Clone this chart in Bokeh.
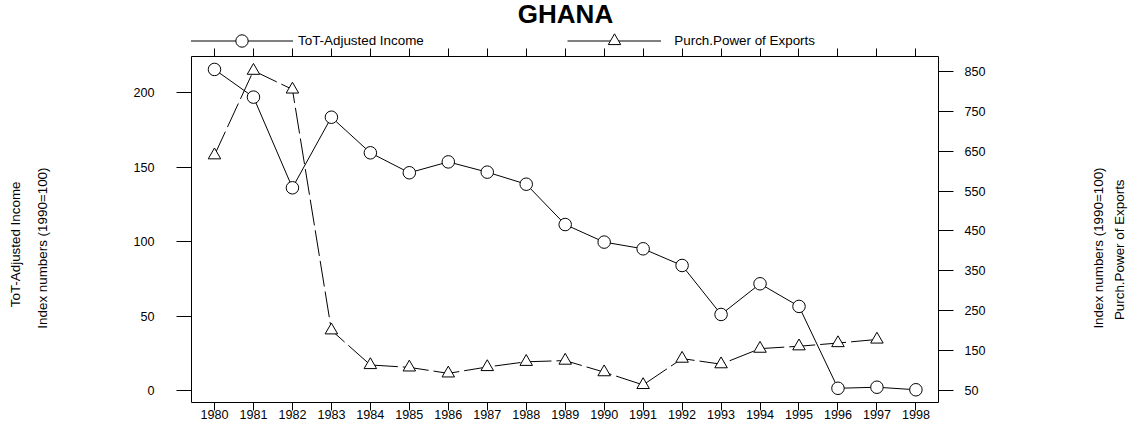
import numpy as np
from bokeh.plotting import figure
from bokeh.layouts import column
from bokeh.models import (Range1d, LinearAxis, FixedTicker, Label, Legend,
                          LegendItem, ColumnDataSource)
from bokeh.embed import file_html
from bokeh.resources import INLINE

# ---------------- data ----------------
title_text = "GHANA"
years = list(range(1980, 1999))
tot_income = [215.7, 197.1, 136.2, 183.6, 159.7, 146.3, 153.6, 146.7, 138.6,
              111.5, 99.7, 95.2, 84.0, 51.1, 71.7, 56.5, 1.5, 2.2, 0.5]
ppx_years = list(range(1980, 1998))
purch_power = [640, 852, 805, 201, 114, 108, 93, 109, 122,
               125, 96, 64, 130, 116, 155, 161, 169, 178]
left_ticks = [0, 50, 100, 150, 200]
right_ticks = [50, 150, 250, 350, 450, 550, 650, 750, 850]
series_names = ["ToT-Adjusted Income", "Purch.Power of Exports"]
left_title = ["ToT-Adjusted Income", "Index numbers (1990=100)"]
right_title = ["Index numbers (1990=100)", "Purch.Power of Exports"]

FONT = "Liberation Sans"
TICK_FS = "12.6px"
TEXT_FS = "13.4px"
NB = "\u00a0"

W = 1137
HEAD_H = 48
MAIN_H = 429 - HEAD_H
BL, BR = 191, 191

src_tot = ColumnDataSource(dict(x=years, y=tot_income))
src_ppx = ColumnDataSource(dict(x=ppx_years, y=purch_power))

# ---------------- header (title + key) ----------------
head = figure(width=W, height=HEAD_H, title=None,
              x_range=Range1d(0, 1), y_range=Range1d(0, 1),
              output_backend="svg", toolbar_location=None,
              x_axis_location=None, y_axis_location=None,
              min_border_left=BL, min_border_right=BR,
              min_border_top=0, min_border_bottom=0)
head.xgrid.visible = False
head.ygrid.visible = False
head.outline_line_color = None
head.background_fill_color = "white"
head.border_fill_color = "white"

head.add_layout(Label(x=374, y=35, x_units="screen", y_units="screen",
                      text=title_text, text_font=FONT, text_font_size="26px",
                      text_font_style="bold", text_align="center",
                      text_baseline="middle", text_color="black"))

# key renderers (series data lies outside this strip's ranges, so only the key shows)
l1 = head.line("x", "y", source=src_tot, line_color="black", line_width=1)
m1 = head.scatter("x", "y", source=src_tot, marker="circle", line_color="black",
                  fill_color="white", line_width=1)
l2 = head.line("x", "y", source=src_ppx, line_color="black", line_width=1)
m2 = head.scatter("x", "y", source=src_ppx, marker="triangle", line_color="black",
                  fill_color="white", line_width=1)


def make_legend(label, rends, loc, gw, standoff):
    return Legend(items=[LegendItem(label=label, renderers=rends)],
                  location=loc, orientation="horizontal",
                  glyph_width=gw, glyph_height=31, label_height=31,
                  label_standoff=standoff, padding=0, spacing=0, margin=0,
                  border_line_color=None, background_fill_alpha=0,
                  label_text_font=FONT, label_text_font_size=TEXT_FS,
                  label_text_color="black")


key_bottom = -8.2
head.add_layout(make_legend(series_names[0], [l1, m1], (-1, key_bottom), 103, 5))
head.add_layout(make_legend(series_names[1], [l2, m2], (376.3, key_bottom), 94, 13))

# ---------------- main plot ----------------
p = figure(width=W, height=MAIN_H, title=None,
           x_range=Range1d(1979.41, 1998.58), y_range=Range1d(-8.06, 224.4),
           output_backend="svg", toolbar_location=None,
           x_axis_location=None, y_axis_location=None,
           min_border_left=BL, min_border_right=BR,
           min_border_top=8, min_border_bottom=27)
p.extra_y_ranges = {"right": Range1d(19.9, 887.6)}
p.xgrid.visible = False
p.ygrid.visible = False
p.outline_line_color = "black"
p.outline_line_width = 1
p.background_fill_color = "white"
p.border_fill_color = "white"


def style_axis(ax, ticks, tick_out, standoff):
    ax.ticker = FixedTicker(ticks=ticks, minor_ticks=[])
    ax.major_tick_out = tick_out
    ax.major_tick_in = 0
    ax.minor_tick_out = 0
    ax.minor_tick_in = 0
    ax.axis_line_color = None
    ax.major_tick_line_color = "black"
    ax.major_tick_line_width = 1
    ax.major_label_standoff = standoff
    ax.major_label_text_font = FONT
    ax.major_label_text_font_size = TICK_FS
    ax.major_label_text_color = "black"
    ax.axis_label_text_font = FONT
    ax.axis_label_text_font_size = TEXT_FS
    ax.axis_label_text_font_style = "normal"
    ax.axis_label_text_color = "black"


bottom = LinearAxis()
style_axis(bottom, years, 8, -1)
p.add_layout(bottom, "below")

top = LinearAxis()
style_axis(top, years, 8, 0)
top.major_label_overrides = {y: "" for y in years}
top.major_label_text_font_size = "0px"
p.add_layout(top, "above")

# left: tick axis carrying the inner title line, then an outer title-only axis
left = LinearAxis()
style_axis(left, left_ticks, 15, 22)
left.axis_label = left_title[1] + NB * 10
left.axis_label_standoff = 80
p.add_layout(left, "left")

left_outer = LinearAxis()
style_axis(left_outer, [], 0, 0)
left_outer.axis_label = left_title[0] + NB * 8
left_outer.axis_label_standoff = 10
p.add_layout(left_outer, "left")

# right: tick axis, then two title-only axes (label written upward, as in the reference)
right = LinearAxis(y_range_name="right")
style_axis(right, right_ticks, 15, 11)
p.add_layout(right, "right")


def right_title_axis(text, at, standoff):
    ax = LinearAxis(y_range_name="right")
    style_axis(ax, [at], 0, standoff)
    ax.major_tick_line_color = None
    ax.major_label_overrides = {at: text}
    ax.major_label_orientation = np.pi / 2
    ax.major_label_text_font_size = TEXT_FS
    p.add_layout(ax, "right")
    return ax


right_title_axis(right_title[0], 205.2, 110)
right_title_axis(right_title[1], 226.5, 3)

# ---------------- series ----------------
p.line("x", "y", source=src_ppx, y_range_name="right", line_color="black",
       line_width=1, line_dash="26 5")
p.line("x", "y", source=src_tot, line_color="black", line_width=1)
p.scatter("x", "y", source=src_ppx, y_range_name="right", marker="triangle",
          size=12.5, line_color="black", fill_color="white", line_width=1)
p.scatter("x", "y", source=src_tot, marker="circle", size=12.5,
          line_color="black", fill_color="white", line_width=1)

layout = column(head, p, spacing=0)
open("out.html", "w").write(file_html(layout, INLINE))
